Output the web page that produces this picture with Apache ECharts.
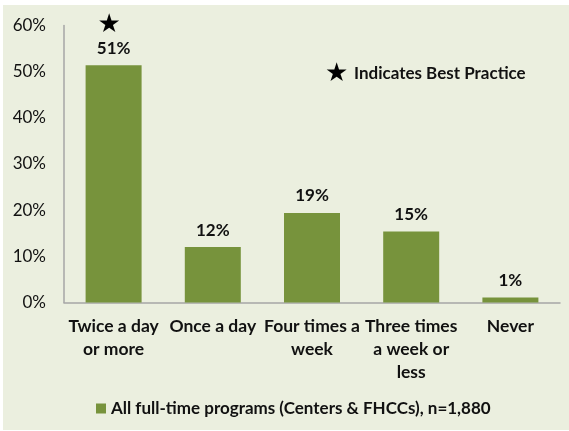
<!DOCTYPE html>
<html><head><meta charset="utf-8">
<script src="https://cdn.jsdelivr.net/npm/echarts@6/dist/echarts.min.js"></script>
<style>html,body{margin:0;padding:0;background:#fff;}#c{width:569px;height:431px;}</style>
</head><body><div id="c"></div>
<script>
var categories = ['Twice a day\nor more', 'Once a day', 'Four times a\nweek', 'Three times\na week or\nless', 'Never'];
var values = [0.514, 0.120, 0.194, 0.154, 0.011];
var bestPractice = [true, false, false, false, false];
var seriesName = 'All full-time programs (Centers & FHCCs), n=1,880';
var noteText = 'Indicates Best Practice';
var yTicks = [0, 0.1, 0.2, 0.3, 0.4, 0.5, 0.6];

var font = 'Lato, "Open Sans", sans-serif';
var chart = echarts.init(document.getElementById('c'));
chart.setOption({
  animation: false,
  textStyle: {fontFamily: font},
  graphic: [
    {type: 'rect', z: -10, shape: {x: 3, y: 5, width: 566, height: 425}, style: {fill: '#EBEFDF'}},
    {type: 'text', left: 325, top: 61, style: {text: '★', font: '26px "DejaVu Sans"', fill: '#000'}},
    {type: 'text', left: 354, top: 65, style: {text: noteText, font: 'bold 17px ' + font, fill: '#111'}}
  ],
  grid: {left: 64, right: 9, top: 25.5, bottom: 128.5, containLabel: false},
  legend: {
    bottom: 9, left: 91, itemWidth: 10, itemHeight: 10, itemGap: 4,
    icon: 'rect',
    textStyle: {fontSize: 17, fontWeight: 'bold', color: '#111', fontFamily: font},
    data: [seriesName]
  },
  xAxis: {
    type: 'category', data: categories,
    axisLine: {lineStyle: {color: '#A6A6A6', width: 1.5}},
    axisTick: {show: false},
    axisLabel: {interval: 0, fontSize: 17.5, fontWeight: 'bold', color: '#111', lineHeight: 23, margin: 12, fontFamily: font}
  },
  yAxis: {
    type: 'value', min: 0, max: 0.6, interval: 0.1,
    axisLine: {show: true, lineStyle: {color: '#A6A6A6', width: 1.5}},
    axisTick: {show: false},
    splitLine: {show: false},
    axisLabel: {fontSize: 17, color: '#111', margin: 18, fontFamily: font,
      formatter: function (v) { return Math.round(v * 100) + '%'; }}
  },
  series: [{
    name: seriesName, type: 'bar', barWidth: 56,
    itemStyle: {color: '#77933C'},
    data: values,
    label: {
      show: true, position: 'top', distance: 7,
      formatter: function (p) {
        var t = '{v|' + Math.round(p.value * 100) + '%}';
        return bestPractice[p.dataIndex] ? '{s|★}\n' + t : t;
      },
      rich: {
        v: {fontSize: 17, fontWeight: 'bold', color: '#111', fontFamily: font, lineHeight: 20},
        s: {fontSize: 26, color: '#000', fontFamily: '"DejaVu Sans"', lineHeight: 26, padding: [0, 9, 0, 0]}
      }
    }
  }]
});
</script></body></html>
